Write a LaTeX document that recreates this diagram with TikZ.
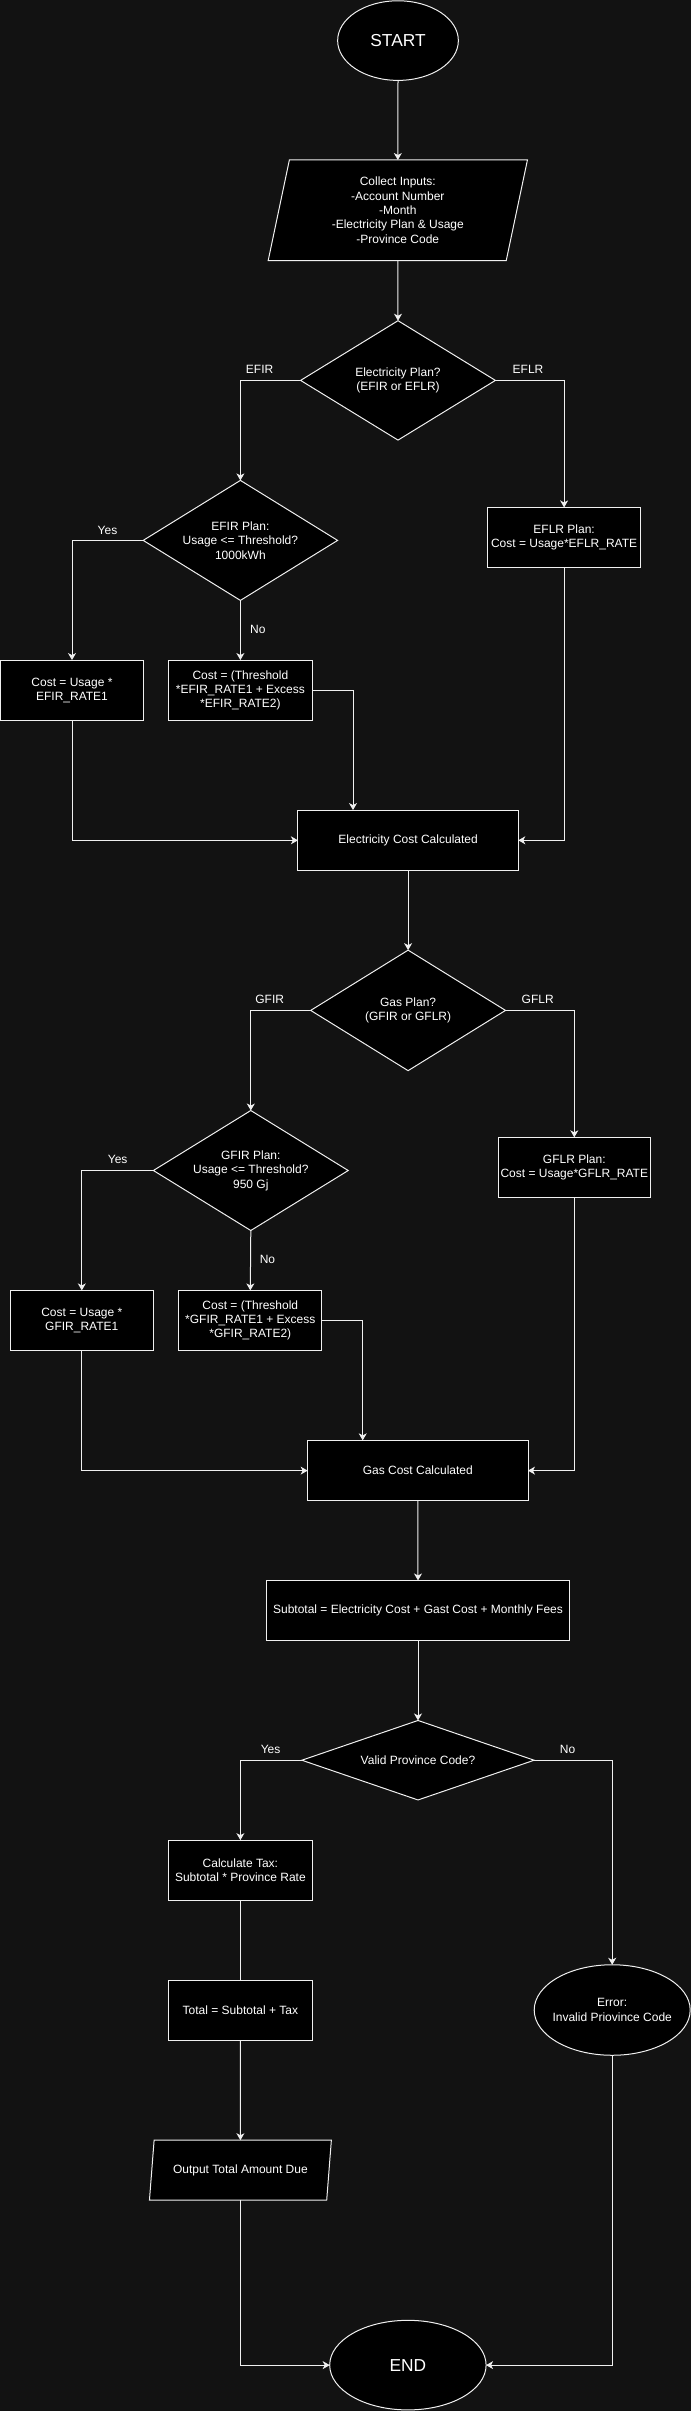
\documentclass[tikz,border=0pt]{standalone}
\usepackage{fontspec}
\setmainfont{Liberation Sans}
\usetikzlibrary{shapes.geometric,arrows.meta,calc}
\definecolor{bgc}{RGB}{18,18,18}
\definecolor{ln}{RGB}{240,240,240}
\begin{document}
\begin{tikzpicture}[x=0.75pt,y=-0.75pt,
  base/.style={draw=ln, line width=0.75pt, fill=black, text=white, inner sep=0pt, outer sep=0pt, align=center, font=\fontsize{9}{10.8}\selectfont},
  proc/.style 2 args={base, rectangle, minimum width=#1*0.75pt, minimum height=#2*0.75pt},
  oval/.style 2 args={base, ellipse, minimum width=#1*0.75pt, minimum height=#2*0.75pt},
  dec/.style 2 args={base, diamond, minimum width=#1*0.75pt, minimum height=#2*0.75pt},
  lbl/.style={text=white, inner sep=0pt, font=\fontsize{9}{10.8}\selectfont},
  big/.style={font=\fontsize{13}{15}\selectfont},
  conn/.style={draw=ln, line width=0.75pt},
  arr/.style={conn, -{Stealth[length=5.25pt,width=6pt,inset=1.5pt]}}
]
\fill[bgc] (0,0) rectangle (691,2411);
\useasboundingbox (0,0) rectangle (691,2411);

% nodes
\node[oval={120.7}{79.6}, big] (start) at (398,40.6) {START};
\node[base, trapezium, trapezium left angle=79, trapezium right angle=101, trapezium stretches=true, minimum width=259.5*0.75pt, minimum height=100.6*0.75pt] (inputs) at (397.8,210.3)
  {Collect Inputs:\\-Account Number\\-Month\\-Electricity Plan \& Usage\\-Province Code};
\node[dec={194.8}{119.4}, aspect=1.63] (d1) at (398,380.4) {Electricity Plan?\\(EFIR or EFLR)};
\node[dec={194.4}{120}, aspect=1.62] (d2) at (240.4,540.4) {EFIR Plan:\\Usage <= Threshold?\\1000kWh};
\node[proc={153.4}{59.7}] (eflr) at (564.1,537.3) {EFLR Plan:\\Cost = Usage*EFLR\_RATE};
\node[proc={143}{60.5}] (efir1) at (72,690.3) {Cost = Usage *\\EFIR\_RATE1};
\node[proc={143.2}{60.5}] (efir2) at (240.4,690.3) {Cost = (Threshold\\{}*EFIR\_RATE1 + Excess\\{}*EFIR\_RATE2)};
\node[proc={220.4}{60.5}] (elec) at (408.1,840.3) {Electricity Cost Calculated};

\node[dec={194.8}{120.5}, aspect=1.62] (gas) at (408.1,1010.4) {Gas Plan?\\(GFIR or GFLR)};
\node[dec={194.8}{120}, aspect=1.62] (g2) at (250.8,1170.5) {GFIR Plan:\\Usage <= Threshold?\\950 Gj};
\node[proc={152.5}{60}] (gflr) at (574.3,1167.3) {GFLR Plan:\\Cost = Usage*GFLR\_RATE};
\node[proc={142.4}{60}] (gfir1) at (81.8,1320.4) {Cost = Usage *\\GFIR\_RATE1};
\node[proc={142.8}{60}] (gfir2) at (250.3,1320.4) {Cost = (Threshold\\{}*GFIR\_RATE1 + Excess\\{}*GFIR\_RATE2)};
\node[proc={220.4}{60.5}] (gasc) at (417.8,1470.6) {Gas Cost Calculated};

\node[proc={302.8}{59.7}] (sub) at (418,1610.3) {Subtotal = Electricity Cost + Gast Cost + Monthly Fees};
\node[dec={232.3}{79.5}, aspect=2.92] (prov) at (418,1760.2) {Valid Province Code?};
\node[proc={143.2}{60.4}] (tax) at (240.4,1870.3) {Calculate Tax:\\Subtotal * Province Rate};
\node[proc={143.2}{60.4}] (total) at (240.4,2010.2) {Total = Subtotal + Tax};
\node[base, trapezium, trapezium left angle=72, trapezium right angle=108, trapezium stretches=true, minimum width=182*0.75pt, minimum height=60*0.75pt] (out) at (240.4,2170.2) {Output Total Amount Due};
\node[oval={156}{90.5}, inner xsep=-4pt] (errn) at (612.2,2010) {Error:\\Invalid Priovince Code};
\node[oval={156.4}{89.6}, big] (endn) at (407.9,2365.1) {END};

% labels
\node[lbl] (lefir) at (259.6,369.7) {EFIR};
\node[lbl] (leflr) at (528,369.7) {EFLR};
\node[lbl] (lyes1) at (107.5,530) {Yes};
\node[lbl] (lno1) at (257.8,629.9) {No};
\node[lbl] (lgfir) at (269.7,999.5) {GFIR};
\node[lbl] (lgflr) at (537.7,999.5) {GFLR};
\node[lbl] (lyes2) at (117.7,1159.5) {Yes};
\node[lbl] (lno2) at (267.5,1259.3) {No};
\node[lbl] (lyes3) at (270.6,1749.6) {Yes};
\node[lbl] (lno3) at (567.6,1749.6) {No};

% connectors
\draw[arr] (start.south) -- (inputs.north);
\draw[arr] (inputs.south) -- (d1.north);
\draw[arr] (d1.west) -| (d2.north);
\draw[arr] (d1.east) -| (eflr.north);
\draw[arr] (d2.west) -| (efir1.north);
\draw[arr] (d2.south) -- (efir2.north);
\draw[arr] (efir2.east) -| ($(elec.north west)!0.25!(elec.north east)$);
\draw[arr] (efir1.south) |- (elec.west);
\draw[arr] (eflr.south) |- (elec.east);
\draw[arr] (elec.south) -- (gas.north);
\draw[arr] (gas.west) -| (g2.north);
\draw[arr] (gas.east) -| (gflr.north);
\draw[arr] (g2.west) -| (gfir1.north);
\draw[arr] (g2.south) -- (gfir2.north);
\draw[arr] (gfir2.east) -| ($(gasc.north west)!0.25!(gasc.north east)$);
\draw[arr] (gfir1.south) |- (gasc.west);
\draw[arr] (gflr.south) |- (gasc.east);
\draw[arr] (gasc.south) -- (sub.north);
\draw[arr] (sub.south) -- (prov.north);
\draw[arr] (prov.west) -| (tax.north);
\draw[arr] (prov.east) -| (errn.north);
\draw[conn] (tax.south) -- (total.north);
\draw[arr] (total.south) -- (out.north);
\draw[arr] (out.south) |- (endn.west);
\draw[arr] (errn.south) |- (endn.east);
\end{tikzpicture}
\end{document}
